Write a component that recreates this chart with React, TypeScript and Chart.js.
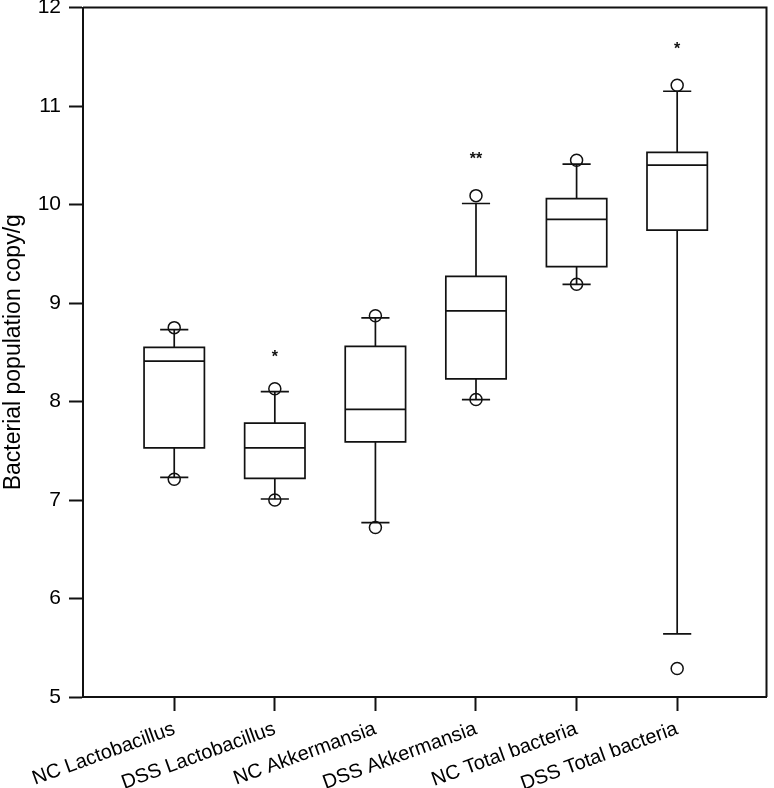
import React, { useEffect, useRef } from "react";
import { Chart, registerables } from "chart.js";

Chart.register(...registerables);

const categories = [
  "NC Lactobacillus",
  "DSS Lactobacillus",
  "NC Akkermansia",
  "DSS Akkermansia",
  "NC Total bacteria",
  "DSS Total bacteria",
];
const q1 = [7.53, 7.22, 7.59, 8.23, 9.37, 9.74];
const median = [8.41, 7.53, 7.92, 8.92, 9.85, 10.4];
const q3 = [8.55, 7.78, 8.56, 9.27, 10.06, 10.53];
const whiskerLow = [7.23, 7.01, 6.77, 8.02, 9.19, 5.64];
const whiskerHigh = [8.73, 8.1, 8.85, 10.01, 10.41, 11.15];
const outlierLow = [7.21, 7.0, 6.72, 8.02, 9.19, 5.29];
const outlierHigh = [8.75, 8.13, 8.87, 10.09, 10.45, 11.21];
const sigLabels = ["", "*", "", "**", "", "*"];
const sigValues = [null, 8.49, null, 10.5, null, 11.62];
const yTicks = [5, 6, 7, 8, 9, 10, 11, 12];

const FONT = "'Liberation Sans', Arial, sans-serif";
const INK = "#111";

const boxPlugin = {
  id: "boxPlugin",
  beforeDatasetsDraw(chart: any) {
    const { ctx, scales } = chart;
    const xs = scales.x;
    const ys = scales.y;
    ctx.save();
    ctx.strokeStyle = INK;
    ctx.lineWidth = 1.7;
    const boxHalf = 0.3;
    const capHalf = 0.14;
    categories.forEach((_, i) => {
      const xc = xs.getPixelForValue(i + 1);
      const xl = xs.getPixelForValue(i + 1 - boxHalf);
      const xr = xs.getPixelForValue(i + 1 + boxHalf);
      const cl = xs.getPixelForValue(i + 1 - capHalf);
      const cr = xs.getPixelForValue(i + 1 + capHalf);
      const yq1 = ys.getPixelForValue(q1[i]);
      const yq3 = ys.getPixelForValue(q3[i]);
      const ym = ys.getPixelForValue(median[i]);
      const ywl = ys.getPixelForValue(whiskerLow[i]);
      const ywh = ys.getPixelForValue(whiskerHigh[i]);
      ctx.beginPath();
      ctx.rect(xl, yq3, xr - xl, yq1 - yq3);
      ctx.moveTo(xl, ym);
      ctx.lineTo(xr, ym);
      ctx.moveTo(xc, yq3);
      ctx.lineTo(xc, ywh);
      ctx.moveTo(cl, ywh);
      ctx.lineTo(cr, ywh);
      ctx.moveTo(xc, yq1);
      ctx.lineTo(xc, ywl);
      ctx.moveTo(cl, ywl);
      ctx.lineTo(cr, ywl);
      ctx.stroke();
    });
    ctx.restore();
  },
  afterDatasetsDraw(chart: any) {
    const { ctx, scales, chartArea } = chart;
    const xs = scales.x;
    const ys = scales.y;
    ctx.save();
    ctx.strokeStyle = INK;
    ctx.lineWidth = 2;
    ctx.beginPath();
    ctx.moveTo(chartArea.left, chartArea.top);
    ctx.lineTo(chartArea.right, chartArea.top);
    ctx.lineTo(chartArea.right, chartArea.bottom);
    ctx.stroke();
    ctx.fillStyle = INK;
    ctx.font = `bold 16px ${FONT}`;
    ctx.textAlign = "center";
    ctx.textBaseline = "alphabetic";
    sigLabels.forEach((s, i) => {
      const v = sigValues[i];
      if (!s || v == null) return;
      ctx.fillText(s, xs.getPixelForValue(i + 1), ys.getPixelForValue(v) + 9);
    });
    ctx.restore();
  },
};

export default function App() {
  const ref = useRef<HTMLCanvasElement | null>(null);
  useEffect(() => {
    if (!ref.current) return;
    const points: { x: number; y: number }[] = [];
    categories.forEach((_, i) => {
      points.push({ x: i + 1, y: outlierHigh[i] });
      points.push({ x: i + 1, y: outlierLow[i] });
    });
    const chart = new Chart(ref.current, {
      type: "scatter",
      data: {
        datasets: [
          {
            data: points,
            pointStyle: "circle",
            pointRadius: 6,
            pointHoverRadius: 6,
            borderColor: INK,
            borderWidth: 1.5,
            backgroundColor: "rgba(0,0,0,0)",
            showLine: false,
          },
        ],
      },
      options: {
        animation: false,
        responsive: false,
        events: [],
        layout: { padding: { left: 0, right: 2, top: 7, bottom: 0 } },
        plugins: {
          legend: { display: false },
          tooltip: { enabled: false },
        },
        scales: {
          x: {
            type: "linear",
            min: 0.093,
            max: 6.888,
            afterBuildTicks: (scale: any) => {
              scale.ticks = categories.map((_, i) => ({ value: i + 1 }));
            },
            afterFit: (scale: any) => {
              scale.height = 91;
            },
            grid: {
              drawOnChartArea: false,
              drawTicks: true,
              tickLength: 14,
              tickColor: INK,
              tickWidth: 2,
            },
            border: { display: true, color: INK, width: 2 },
            ticks: {
              autoSkip: false,
              minRotation: 20,
              maxRotation: 20,
              padding: 6,
              color: "#000",
              font: { family: FONT, size: 20 },
              callback: (v: any) => categories[Math.round(Number(v)) - 1] ?? "",
            },
          },
          y: {
            type: "linear",
            min: 5,
            max: 12,
            afterBuildTicks: (scale: any) => {
              scale.ticks = yTicks.map((v) => ({ value: v }));
            },
            afterFit: (scale: any) => {
              scale.width = 83;
              scale.paddingTop = 0;
              scale.paddingBottom = 0;
            },
            grid: {
              drawOnChartArea: false,
              drawTicks: true,
              tickLength: 14,
              tickColor: INK,
              tickWidth: 2,
            },
            border: { display: true, color: INK, width: 2 },
            ticks: {
              padding: 8,
              color: "#000",
              font: { family: FONT, size: 21 },
            },
            title: {
              display: true,
              text: "Bacterial population copy/g",
              color: "#000",
              font: { family: FONT, size: 23 },
              padding: { top: 0, bottom: 0 },
            },
          },
        },
      },
      plugins: [boxPlugin],
    });
    return () => chart.destroy();
  }, []);
  return (
    <div style={{ position: "fixed", left: 0, top: 0, width: 774, height: 788, background: "#fff" }}>
      <canvas ref={ref} width={774} height={788} />
    </div>
  );
}
